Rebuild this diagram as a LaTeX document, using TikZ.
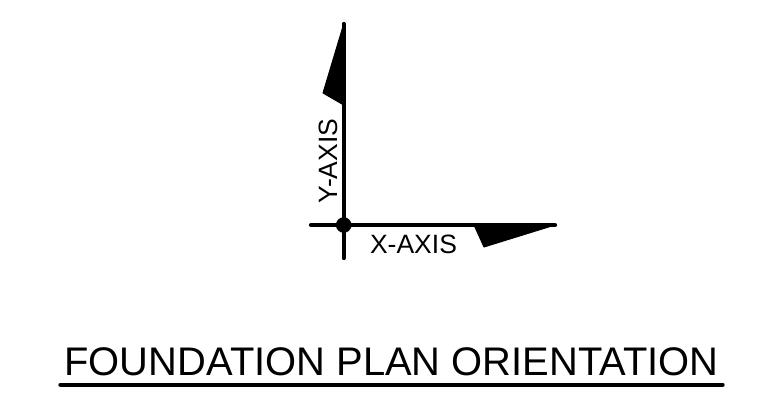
\documentclass[tikz,border=0pt]{standalone}
\usepackage{fontspec}
\setmainfont{Liberation Sans}
\usetikzlibrary{positioning,calc}

\begin{document}
\begin{tikzpicture}[x=1pt,y=-1pt,
  axisline/.style={line width=4.3pt,line cap=round},
  flagfill/.style={fill=black,draw=black,line width=1pt,line join=round}]
\useasboundingbox (0,0) rectangle (760,394);
\coordinate (O) at (343.7,225);
\coordinate (ytop) at (343.7,24);
\coordinate (ybot) at (343.7,258);
\coordinate (xleft) at (311,225);
\coordinate (xright) at (555,225);
\draw[axisline] (ytop) -- (ybot);
\draw[axisline] (xleft) -- (xright);
\fill (O) circle[radius=7.8pt];
\filldraw[flagfill] (ytop) -- (323,93) -- (343.7,105) -- cycle;
\filldraw[flagfill] (474,225) -- (484,247) -- (xright) -- cycle;
\node[rotate=90,font=\fontsize{26.5}{30}\selectfont,inner sep=0] (ylabel) at (328,161) {Y-AXIS};
\node[font=\fontsize{26.5}{30}\selectfont,inner sep=0] (xlabel) at (413.5,244) {X-AXIS};
\node[font=\fontsize{39.9}{44}\selectfont,inner sep=0] (title) at (391.5,361.5) {FOUNDATION PLAN ORIENTATION};
\draw[line width=4pt,line cap=round] ($(title.south west)+(-4,9)$) -- ($(title.south east)+(4,9)$);
\end{tikzpicture}
\end{document}
